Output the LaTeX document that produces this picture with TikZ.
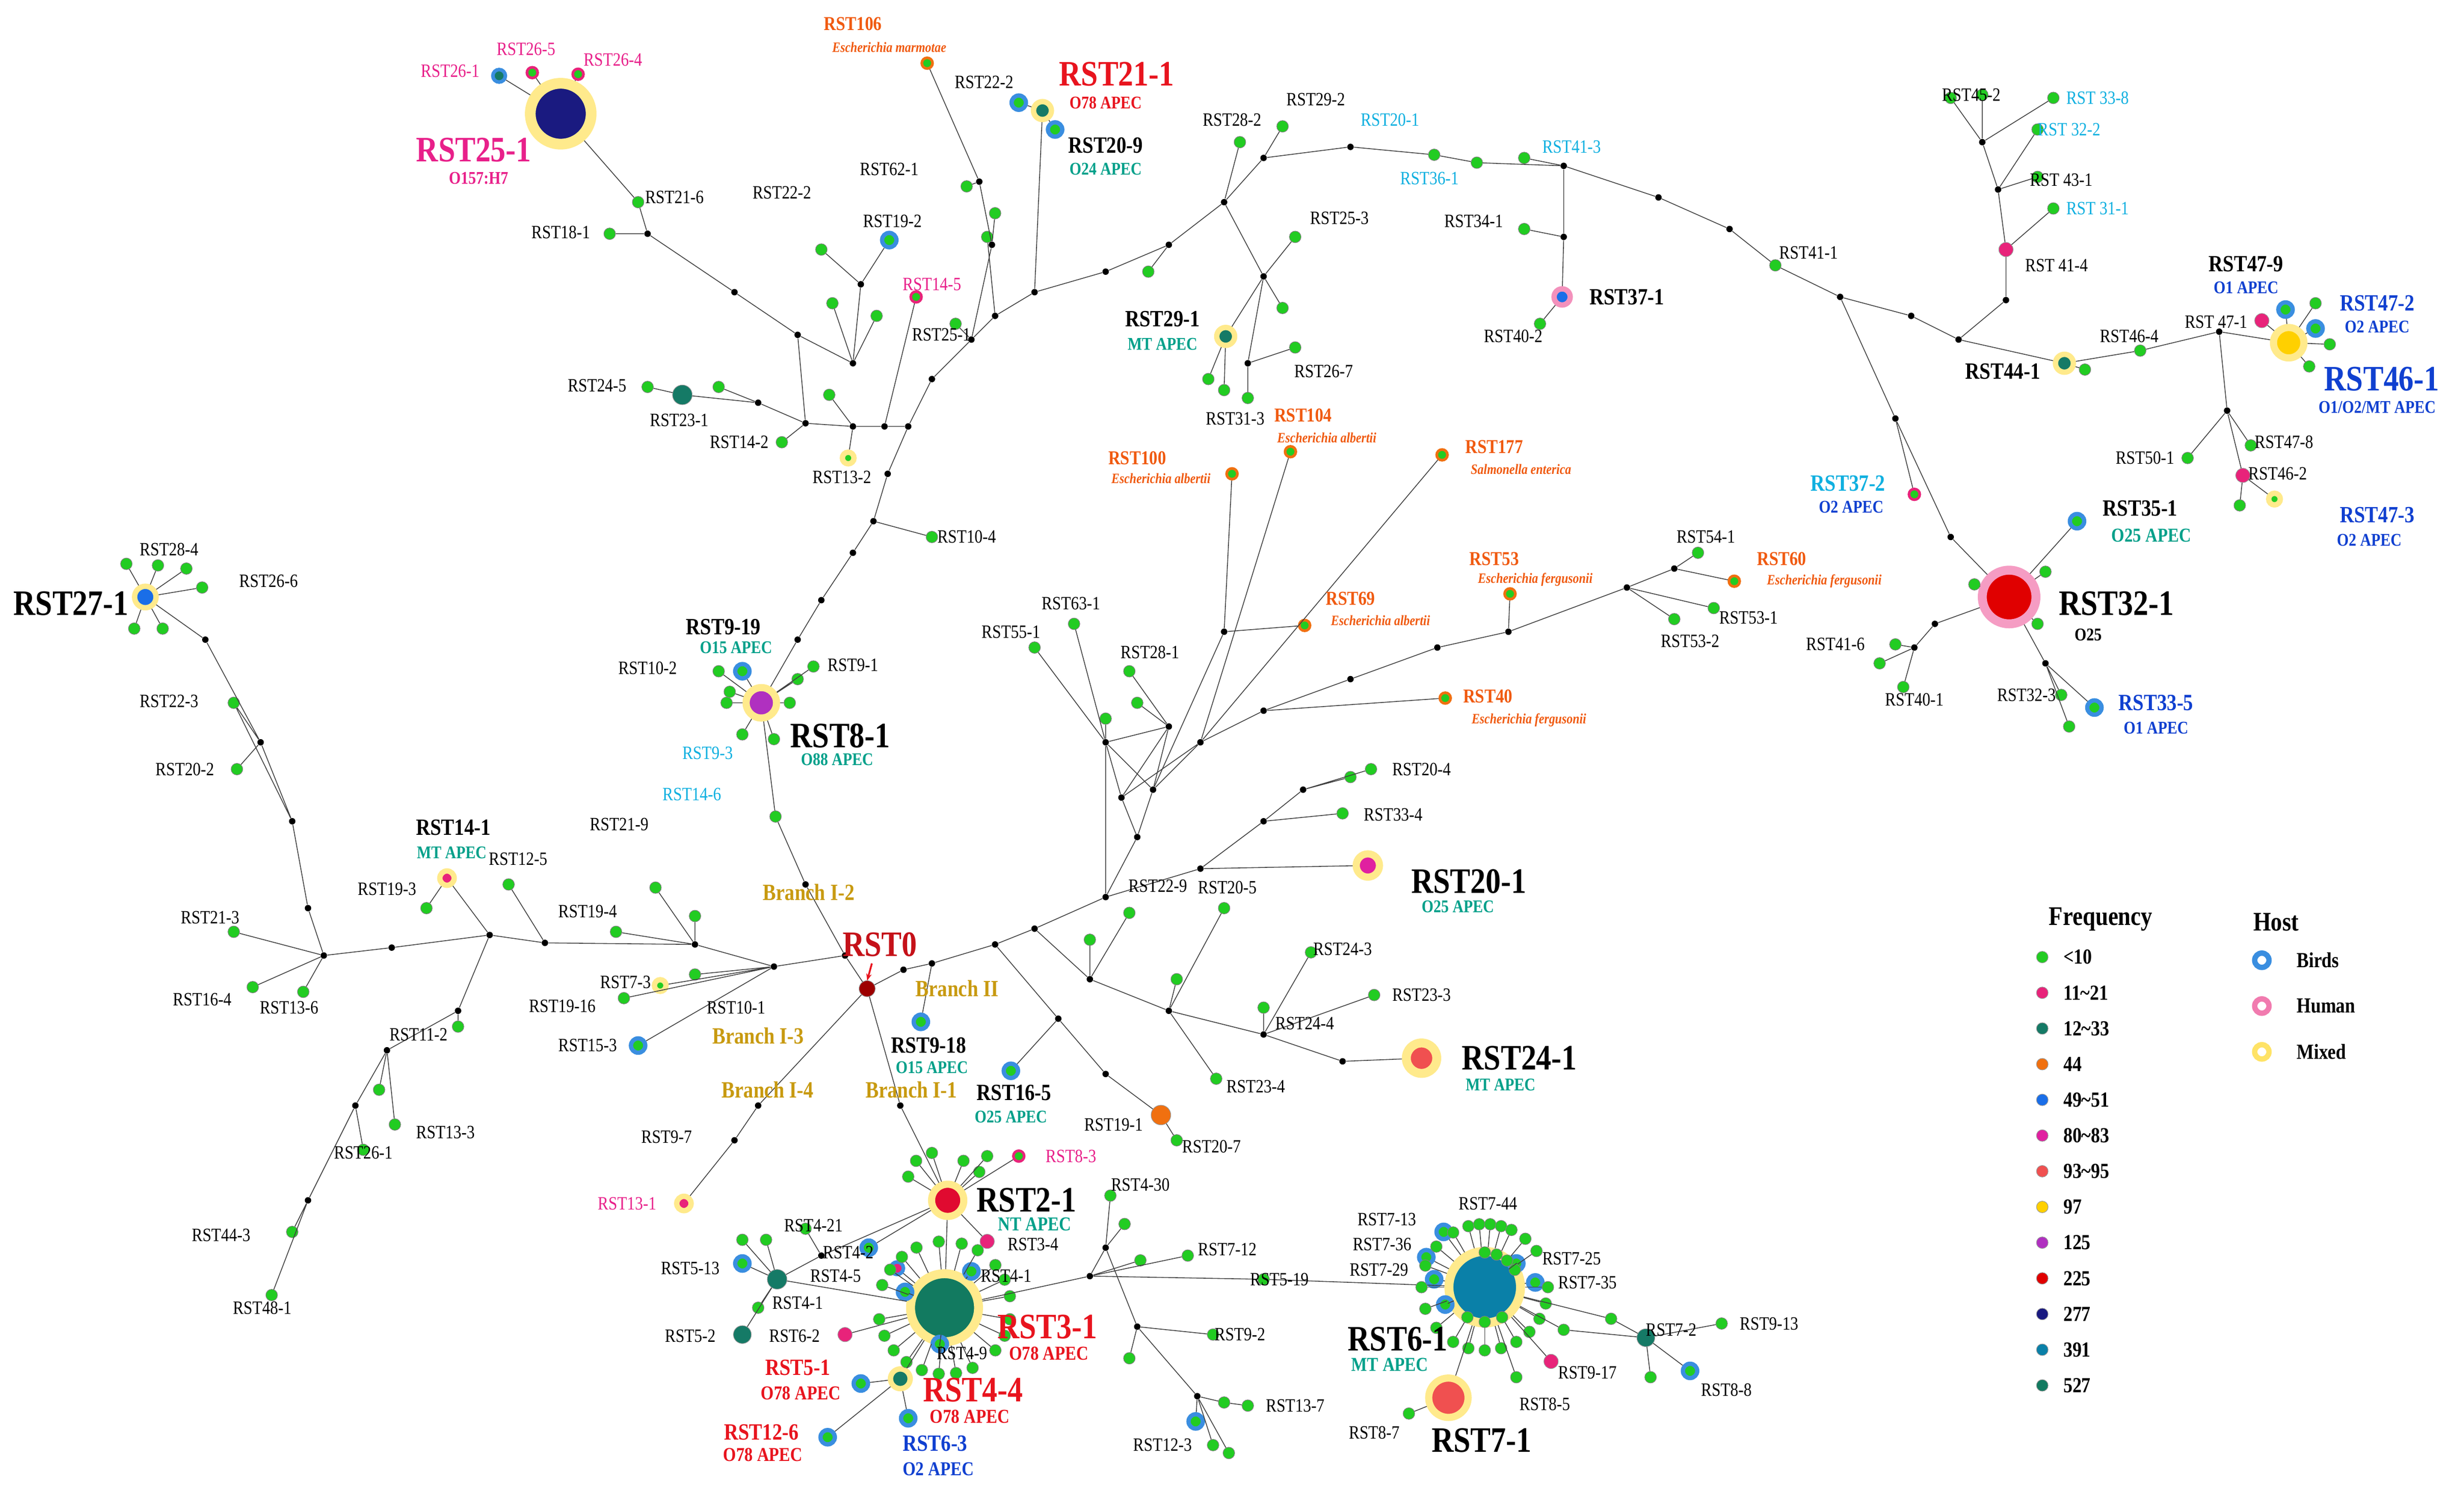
\documentclass[tikz,border=0pt]{standalone}
\usepackage{fontspec}
\setmainfont{Liberation Serif}[FakeStretch=0.85]
\usetikzlibrary{calc,arrows.meta}
\definecolor{cg}{HTML}{22CC22}
\definecolor{cpk}{HTML}{E8237A}
\definecolor{ctl}{HTML}{157A66}
\definecolor{cor}{HTML}{F07010}
\definecolor{cbl}{HTML}{1A6EE8}
\definecolor{cmg}{HTML}{E020A0}
\definecolor{csl}{HTML}{F05050}
\definecolor{cye}{HTML}{FFD000}
\definecolor{cpu}{HTML}{B030C0}
\definecolor{crd}{HTML}{E00000}
\definecolor{cnv}{HTML}{1A1A80}
\definecolor{ccy}{HTML}{0A80A8}
\definecolor{cdt}{HTML}{127A60}
\definecolor{ring}{HTML}{3A8EE0}
\definecolor{tteal}{HTML}{00A08A}
\definecolor{tred}{HTML}{E8141E}
\definecolor{torg}{HTML}{F05A10}
\definecolor{tcy}{HTML}{10B0E0}
\definecolor{tblu}{HTML}{1040D0}
\definecolor{tpk}{HTML}{E8208A}
\definecolor{tgold}{HTML}{C89A10}
\newcounter{lc}
\newcommand\Lb[3][]{\stepcounter{lc}\node[lab,#1] (lab\thelc) at (#2) {#3};}
\newcommand\G[3][]{\node[g,#1] (#2) at (#3) {};}
\newcommand\K[2]{\node[k] (#1) at (#2) {};}
\begin{document}
\begin{tikzpicture}[x=0.031026cm,y=-0.031026cm,
 e/.style={draw=black!75,line width=0.45pt},
 k/.style={circle,fill=black,inner sep=0,minimum size=3.6pt},
 g/.style={circle,fill=cg,draw=black!50,line width=0.3pt,inner sep=0,minimum size=6.5pt},
 bird/.style={draw=ring,line width=2.4pt,minimum size=8pt},
 mix/.style={draw=cye!45,line width=3pt},
 hum/.style={draw=cpk!45,line width=3pt},
 n/.style={circle,inner sep=0,draw=black!40,line width=0.3pt},
 lab/.style={font=\fontsize{10.5}{12}\selectfont,inner sep=1pt},
 bl/.style={font=\bfseries\fontsize{13}{14}\selectfont,inner sep=1pt},
 Bl/.style={font=\bfseries\fontsize{20}{22}\selectfont,inner sep=1pt},
 sb/.style={font=\bfseries\fontsize{10}{11}\selectfont,inner sep=1pt},
 it/.style={font=\bfseries\itshape\fontsize{8}{9}\selectfont,inner sep=1pt,text=torg},
 br/.style={font=\bfseries\fontsize{13}{14}\selectfont,text=tgold,inner sep=1pt}]
\useasboundingbox[fill=white] (0,0) rectangle (1560,944);

% ---------- major nodes ----------
\node[n,fill=cnv,minimum size=34pt,draw=cye!45,line width=6pt] (r251) at (355,72) {};
\node[n,fill=cpu,minimum size=17pt,draw=cye!45,line width=4pt] (r81) at (482,445) {};
\node[n,fill=crd,minimum size=30pt,draw=cpk!45,line width=5pt] (r321) at (1272,378) {};
\node[n,fill=cye,minimum size=17pt,draw=cye!45,line width=4pt] (r461) at (1449,217) {};
\node[n,fill=cdt,minimum size=38pt,draw=cye!45,line width=5pt] (r31) at (598,828) {};
\node[n,fill=ccy,minimum size=40pt,draw=cye!45,line width=5pt] (r61) at (940,815) {};
\node[n,fill=crd!70!cmg,minimum size=18pt,draw=cye!45,line width=4pt] (r21) at (600,760) {};
\node[n,fill=csl,minimum size=22pt,draw=cye!45,line width=4pt] (r71) at (917,885) {};
\node[n,fill=csl,minimum size=17pt,draw=cye!45,line width=5pt] (r241) at (900,670) {};
\node[n,fill=cmg,minimum size=13pt,draw=cye!45,line width=4pt] (r201) at (866,548) {};
\node[n,fill=cbl,minimum size=12pt,draw=cye!45,line width=3pt] (r271) at (92,378) {};
\node[n,fill=cbl,minimum size=9pt,draw=cpk!50,line width=3pt] (r371) at (989,188) {};
\node[n,fill=ctl,minimum size=10pt,draw=cye!45,line width=3pt] (r211) at (660,70) {};
\node[n,fill=ctl,minimum size=10pt,draw=cye!45,line width=3pt] (r291) at (776,213) {};
\node[n,fill=ctl,minimum size=10pt,draw=cye!45,line width=3pt] (r441) at (1307,230) {};
\node[n,fill=ctl,minimum size=11pt,draw=cye!45,line width=3pt] (r44) at (570,873) {};
\node[n,fill=ctl,minimum size=11pt] (r231) at (432,250) {};
\node[n,fill=ctl,minimum size=11pt] (r41) at (492,810) {};
\node[n,fill=ctl,minimum size=10pt] (r52) at (470,845) {};
\node[n,fill=ctl,minimum size=10pt] (r72) at (1042,847) {};
\node[n,fill=cpk,minimum size=8pt,draw=cye!45,line width=3pt] (r141) at (283,556) {};
\node[n,fill=cpk,minimum size=8pt,draw=cye!45,line width=3pt] (r131) at (433,762) {};
\node[n,fill=cor,minimum size=11pt] (r191) at (735,706) {};
\node[n,fill=cpk,minimum size=8pt] (r414) at (1270,158) {};
\node[n,fill=cpk,minimum size=8pt] (r471) at (1432,203) {};
\node[n,fill=cpk,minimum size=8pt] (r462) at (1420,301) {};
\node[n,fill=cpk,minimum size=8pt] (r62) at (535,845) {};
\node[n,fill=cpk,minimum size=8pt] (r34) at (625,786) {};
\node[n,fill=cpk,minimum size=8pt] (r917) at (982,862) {};
\node[n,fill=cpk,minimum size=7pt,draw=ring,line width=2pt] (r45) at (568,803) {};
\node[n,fill=ctl,minimum size=7pt,draw=ring,line width=2pt] (r261) at (316,48) {};
\node[n,fill=cg,minimum size=6pt,draw=cpk,line width=1.5pt] (r265) at (337,46) {};
\node[n,fill=cg,minimum size=6pt,draw=cpk,line width=1.5pt] (r264) at (366,47) {};
\node[n,fill=cg,minimum size=6pt,draw=cpk,line width=1.5pt] (r145) at (580,188) {};
\node[n,fill=cg,minimum size=6pt,draw=cpk,line width=1.5pt] (r83) at (645,732) {};
\node[n,fill=cg,minimum size=6pt,draw=cpk,line width=1.5pt] (r719) at (1212,313) {};
\foreach \nm/\p in {r106/{587,40},r100/{780,300},r104/{817,286},r177/{913,288},r69/{826,396},r53/{956,376},r60/{1098,368},r40/{915,442}}
 {\node[n,fill=cg,minimum size=6pt,draw=cor,line width=1.5pt] (\nm) at (\p) {};}
% birds
\foreach \nm/\p in {r222/{645,65},r209/{668,82},r192/{563,152},r919/{470,425},r153/{404,662},r918/{583,647},r165/{640,678},
 r479/{1447,196},r472/{1466,208},r351/{1315,330},r335/{1326,448},r513/{470,800},r42/{550,790},r51/{545,876},r126/{524,910},r63/{575,898},
 r123/{757,900},r88/{1070,868},r713/{914,780},r736/{903,796},r729/{908,810},r735/{972,812},b61/{915,826},b62/{960,800},b63/{595,851},b64/{615,805},b65/{573,818}}
 {\node[g,bird] (\nm) at (\p) {};}
% mixed small
\G[mix]{r132}{537,290}
\G[mix]{r73}{418,624}
\G[mix]{r473}{1440,316}

% ---------- top-left ----------
\K{a1}{410,148}\G{r216}{404,128}\G{r181}{386,148}
\K{a2}{465,185}\K{a3}{505,212}\K{a4}{510,268}\K{a5}{540,270}\K{a6}{560,270}
\K{a7}{480,255}\K{a8}{540,230}\K{a9}{545,180}\G{r222b}{520,158}\G{lf1}{527,192}\G{lf2}{555,200}
\G{r245}{410,245}\G{lf3}{455,245}\G{lf4}{495,280}\G{lf5}{525,250}
\draw[e] (r251)--(r261) (r251)--(r265) (r251)--(r264) (r251)--(r216)--(a1)--(r181) (a1)--(a2)--(a3)--(a4) (a3)--(a8)--(a9)--(r222b) (a9)--(r192) (a8)--(lf1) (a8)--(lf2)
 (a4)--(a7)--(r231)--(r245) (a7)--(lf3) (a4)--(lf4) (a4)--(a5)--(a6) (a5)--(lf5) (a5)--(r132) (a6)--(r145);
% trunk
\K{t1}{505,405}\K{t2}{520,380}\K{t3}{540,350}\K{t4}{553,330}\K{t5}{562,300}\K{t6}{575,270}\K{t7}{590,240}\K{t8}{615,215}\K{t9}{630,200}\K{t10}{655,185}
\G{r104b}{590,340}\G{lf6}{605,205}\G{lf7}{625,150}\K{t11}{628,155}\K{t12}{620,115}\G{r621}{612,118}\G{lf8}{630,135}
\draw[e] (r81)--(t1)--(t2)--(t3)--(t4)--(t5)--(t6)--(t7)--(t8)--(t9)--(t10) (t6)--(a6) (t4)--(r104b) (t8)--(lf6) (t8)--(t11)--(t12)--(r106) (t12)--(r621) (t11)--(lf8) (t9)--(lf7);
\draw[e] (t10)--(r211)--(r222) (r211)--(r209);
% top arc
\K{u1}{700,172}\K{u2}{740,155}\K{u3}{775,128}\K{u4}{800,100}\K{u5}{855,93}\K{u6}{990,105}\K{u7}{1050,125}\K{u8}{1095,145}
\G{lf9}{727,172}\G{r282}{785,90}\G{r292}{812,80}\G{r201t}{908,98}\G{r361}{935,103}\G{r413}{965,100}\G{r411}{1124,168}
\K{u9}{990,150}\G{r341}{965,145}\G{r402}{975,205}
\K{v1}{800,175}\K{v2}{790,230}\G{r253}{820,150}\G{r267}{820,220}\G{r313}{790,252}\G{lf10}{765,240}\G{lf11}{775,247}\G{lf12}{812,195}
\draw[e] (t10)--(u1)--(u2)--(u3)--(u4)--(u5)--(r201t)--(r361)--(u6)--(u7)--(u8)--(r411) (u6)--(r413) (u2)--(lf9) (u3)--(r282) (u4)--(r292)
 (u6)--(u9)--(r371)--(r402) (u9)--(r341) (u3)--(v1)--(r253) (v1)--(lf12) (v1)--(r291) (v1)--(v2)--(r267) (v2)--(r313) (r291)--(lf10) (r291)--(lf11);
% right top
\K{w1}{1165,188}\K{w2}{1210,200}\K{w3}{1240,215}\K{w4}{1270,190}\K{w5}{1265,120}\K{w6}{1255,90}\K{w7}{1405,210}
\G{r452}{1235,62}\G{r338}{1300,62}\G{r322}{1290,82}\G{r431}{1290,112}\G{r311}{1300,132}\G{lf13}{1255,60}\G{lf14}{1320,234}
\G{r464}{1355,222}\K{w8}{1410,260}\G{r478}{1425,282}\G{r501}{1385,290}\G{lf15}{1418,320}\G{lf16}{1466,192}\G{lf17}{1475,218}\G{lf18}{1462,232}
\draw[e] (r411)--(w1)--(w2)--(w3)--(r441)--(r464)--(w7)--(r461) (w3)--(w4)--(r414)--(w5)--(w6)--(r452) (w6)--(lf13) (w6)--(r338) (w5)--(r322) (w5)--(r431) (r414)--(r311)
 (r441)--(lf14) (r461)--(r479) (r461)--(r472) (r461)--(r471) (r461)--(lf16) (r461)--(lf17) (r461)--(lf18) (w7)--(w8)--(r462)--(r473) (w8)--(r478) (w8)--(r501) (r462)--(lf15);
\K{w9}{1200,265}\K{w10}{1235,340}
\G{lf19}{1295,362}\G{lf20}{1250,370}\G{lf21}{1290,395}\K{w11}{1225,395}\K{w12}{1212,410}\G{r416}{1200,408}\G{r401}{1205,435}\G{lf22}{1190,420}
\K{w13}{1295,420}\G{r323}{1305,440}\G{lf23}{1310,460}
\draw[e] (w1)--(w9)--(w10)--(r321) (w9)--(r719) (r321)--(r351) (r321)--(lf19) (r321)--(lf20) (r321)--(lf21) (r321)--(w11)--(w12)--(r416) (w12)--(r401) (w12)--(lf22) (r321)--(w13)--(r335) (w13)--(r323) (w13)--(lf23);

% ---------- middle ----------
\node[n,fill=crd!70!black,minimum size=9pt] (r0) at (549,626) {};
\K{b1}{572,614}\K{b2}{590,610}\K{b3}{630,598}\K{b4}{655,588}\K{b5}{700,568}\K{b6}{720,530}\K{h}{730,500}\K{h2}{760,470}
\K{h3}{700,470}\K{h4}{740,460}\K{h5}{710,505}
\G{r551}{655,410}\G{r631}{680,395}\G{r281}{715,425}\G{lf24}{700,455}\G{lf25}{720,445}
\draw[e] (r0)--(b1)--(b2)--(b3)--(b4)--(b5)--(b6)--(h)--(h2) (h)--(h3)--(r551) (h3)--(h4)--(h5)--(h3) (h4)--(h) (h5)--(b6) (h3)--(r631) (h4)--(r281) (h3)--(lf24) (h4)--(lf25) (h5)--(h2) (b5)--(h3);
\K{p1}{775,400}\K{p2}{800,450}\K{p3}{855,430}\K{p4}{910,410}\K{p5}{955,400}\K{p6}{1030,372}\K{p7}{1060,360}
\G{r541}{1075,350}\G{r531}{1085,385}\G{r532}{1060,392}
\draw[e] (h)--(p1)--(r69) (p1)--(r100) (h2)--(r104) (h2)--(r177) (h2)--(p2)--(p3)--(p4)--(p5)--(p6)--(p7)--(r60) (p7)--(r541) (p6)--(r531) (p6)--(r532) (p5)--(r53) (p2)--(r40);
\K{q1}{760,550}\K{q2}{800,520}\K{q3}{825,500}\G{r334}{850,515}\G{r204}{868,487}\G{lf26}{855,492}
\draw[e] (b5)--(q1)--(r201) (q1)--(q2)--(r334) (q2)--(q3)--(r204) (q3)--(lf26);
\K{s1}{690,620}\K{s2}{740,640}\K{s3}{800,655}\K{s4}{850,672}
\G{r229}{715,578}\G{r205}{775,575}\G{r243}{830,603}\G{r233}{870,630}\G{r244}{800,638}\G{r234}{770,683}\G{lf27}{690,595}\G{lf28}{745,620}
\draw[e] (b4)--(s1)--(s2)--(s3)--(s4)--(r241) (s1)--(r229) (s1)--(lf27) (s2)--(r205) (s2)--(lf28) (s3)--(r243) (s3)--(r233) (s3)--(r244) (s2)--(r234);
\K{s5}{670,645}\K{s6}{700,680}\G{r207}{745,722}
\draw[e] (b3)--(s5)--(r165) (s5)--(s6)--(r191)--(r207) (b2)--(r918);
% RST8-1 and branch I-2
\G{r102}{455,425}\G{r91}{515,422}\G{r93}{470,465}\G{lf29}{460,445}\G{lf30}{500,445}\G{lf31}{490,468}\G{lf32}{505,430}\G{lf33}{462,438}
\G{r146}{491,517}\K{c1}{535,605}\K{c2}{510,560}
\draw[e] (r0)--(c1)--(c2)--(r146)--(r81) (r81)--(r919) (r81)--(r102) (r81)--(r91) (r81)--(r93) (r81)--(lf29) (r81)--(lf30) (r81)--(lf31) (r81)--(lf32) (r81)--(lf33);
% left
\K{L1}{490,612}\K{L2}{440,598}\K{L3}{345,597}\K{L4}{310,592}\K{L5}{248,600}\K{L6}{205,605}
\G{r101}{440,617}\G{r1916}{395,632}\G{r219}{415,562}\G{r194}{390,590}\G{lf34}{440,580}\G{r125}{322,560}\G{r193}{270,575}
\draw[e] (c1)--(L1)--(L2)--(L3)--(L4)--(L5)--(L6) (L1)--(r101) (L1)--(r73) (L2)--(r194) (L2)--(lf34) (L1)--(r153) (L1)--(r1916) (L2)--(r219) (L3)--(r125) (L4)--(r141) (r141)--(r193);
\G{r213}{148,590}\G{r164}{160,625}\G{r136}{192,628}\K{L7}{195,575}\K{L8}{185,520}\K{L9}{165,470}\K{L10}{130,405}
\G{r202}{150,487}\G{r223}{148,445}\G{lf35}{80,357}\G{lf36}{100,358}\G{lf37}{128,372}\G{lf38}{85,398}\G{lf39}{103,398}\G{lf40}{118,360}
\draw[e] (L6)--(r213) (L6)--(r164) (L6)--(r136) (L6)--(L7)--(L8)--(L9)--(L10)--(r271) (L9)--(r202) (L9)--(r223) (r271)--(lf35) (r271)--(lf36) (r271)--(lf37) (r271)--(lf38) (r271)--(lf39) (r271)--(lf40) (L8)--(r223);
\K{m1}{290,640}\K{m2}{245,665}\K{m3}{225,700}\K{m4}{195,760}\G{r112}{290,650}\G{r261b}{230,728}\G{r133}{250,712}\G{r443}{185,780}\G{r481}{172,820}\G{lf41}{240,690}
\draw[e] (L4)--(m1)--(r112) (m1)--(m2)--(m3)--(m4)--(r443) (m4)--(r481) (m3)--(r261b) (m2)--(r133) (m2)--(lf41);
% Branch I-4
\K{d1}{480,700}\K{d2}{465,722}
\draw[e] (r0)--(d1)--(d2)--(r131);
% Branch I-1 bottom cluster
\K{e1}{570,700}\G{lf42}{580,735}\G{lf43}{590,730}\G{lf44}{610,735}\G{lf45}{620,742}\G{lf46}{625,732}\G{lf47}{575,745}
\draw[e] (r0)--(e1)--(r21)--(r31) (r21)--(lf42) (r21)--(lf43) (r21)--(lf44) (r21)--(lf45) (r21)--(lf46) (r21)--(lf47) (r21)--(r83) (r21)--(r34) (r21)--(r42);
\K{e2}{520,795}\G{r421}{510,778}\G{lf48}{470,785}\G{lf49}{485,785}\G{lf50}{480,828}
\draw[e] (r31)--(r41)--(r513) (r41)--(r52) (r41)--(e2)--(r421) (e2)--(r21) (r41)--(lf48) (r41)--(lf49) (r41)--(lf50) (r31)--(r45) (r31)--(r62);
\foreach \a [count=\i] in {200,215,230,245,170,155,140,125,110,95,80,65,40,25,10,350,335,320,300,285,265}
 {\node[g] (cc\i) at ($(598,828)+(\a:42)$) {}; \draw[e] (r31)--(cc\i);}
\draw[e] (r31)--(b63) (r31)--(b64) (r31)--(b65) (r31)--(r44)--(r51) (r44)--(r63) (r44)--(r126);
\K{f1}{690,808}\K{f2}{700,790}\G{r430}{703,757}\G{lf51}{712,775}\G{lf52}{722,798}\G{r712}{752,795}\G{r519}{800,810}\K{f3}{720,840}\G{lf53}{715,860}
\K{f4}{758,884}\G{r92}{768,845}\G{r137}{790,890}\G{lf54}{775,888}\G{lf55}{768,915}\G{lf56}{778,920}
\draw[e] (r31)--(f1)--(r519)--(r61) (f1)--(f2)--(r430) (f2)--(lf51) (f1)--(lf52) (f1)--(r712) (f2)--(f3)--(lf53) (f3)--(r92) (f3)--(f4)--(lf54)--(r137) (f4)--(r123) (f4)--(lf55) (f4)--(lf56);
\foreach \a [count=\i] in {255,265,275,285,295,310,325,0,15,30,45,60,75,90,105,120,140,160,180,200,220,240}
 {\node[g] (dd\i) at ($(940,815)+(\a:40)$) {}; \draw[e] (r61)--(dd\i);}
\foreach \a [count=\i] in {270,290,310,330,60,90,120}
 {\node[g] (de\i) at ($(940,815)+(\a:22)$) {};}
\G{lf57}{892,895}\G{r85}{960,872}
\draw[e] (r61)--(r713) (r61)--(r736) (r61)--(r729) (r61)--(r735) (r61)--(b61) (r61)--(b62) (r61)--(r71)--(lf57) (r61)--(r917) (r61)--(r85);
\G{r913}{1090,838}\G{lf58}{1045,872}\G{lf59}{1020,835}\G{lf60}{990,842}
\draw[e] (r61)--(lf60)--(r72)--(r913) (r72)--(r88) (r72)--(lf58) (r61)--(lf59)--(r72);

% ---------- labels ----------
\Lb[text=tpk]{285,45}{RST26-1}\Lb[text=tpk]{333,31}{RST26-5}\Lb[text=tpk]{388,38}{RST26-4}
\Lb[Bl,text=tpk]{300,95}{RST25-1}\Lb[sb,text=tpk]{303,113}{O157:H7}
\Lb{427,125}{RST21-6}\Lb{355,147}{RST18-1}\Lb{495,122}{RST22-2}\Lb{565,140}{RST19-2}\Lb[text=tpk]{590,180}{RST14-5}\Lb{596,212}{RST25-1}
\Lb{378,244}{RST24-5}\Lb{430,266}{RST23-1}\Lb{468,280}{RST14-2}\Lb{533,302}{RST13-2}\Lb{612,340}{RST10-4}\Lb{563,107}{RST62-1}
\Lb[sb,text=torg,font=\bfseries\fontsize{11}{12}\selectfont]{540,15}{RST106}\Lb[it]{563,30}{Escherichia marmotae}
\Lb{623,52}{RST22-2}\Lb[Bl,text=tred]{707,47}{RST21-1}\Lb[sb,text=tred]{700,65}{O78 APEC}
\Lb[bl]{700,92}{RST20-9}\Lb[sb,text=tteal]{700,107}{O24 APEC}
\Lb{780,76}{RST28-2}\Lb{833,63}{RST29-2}\Lb[text=tcy]{880,76}{RST20-1}\Lb[text=tcy]{905,113}{RST36-1}\Lb[text=tcy]{995,93}{RST41-3}
\Lb{933,140}{RST34-1}\Lb[bl]{1030,188}{RST37-1}\Lb{958,213}{RST40-2}\Lb{848,138}{RST25-3}\Lb{838,235}{RST26-7}\Lb{782,265}{RST31-3}
\Lb[bl]{736,202}{RST29-1}\Lb[sb,text=tteal]{736,218}{MT APEC}\Lb{1145,160}{RST41-1}
\Lb{1248,60}{RST45-2}\Lb[text=tcy]{1328,62}{RST 33-8}\Lb[text=tcy]{1310,82}{RST 32-2}\Lb{1305,114}{RST 43-1}\Lb[text=tcy]{1328,132}{RST 31-1}\Lb{1302,168}{RST 41-4}
\Lb[bl]{1422,167}{RST47-9}\Lb[sb,text=tblu]{1422,182}{O1 APEC}\Lb[bl,text=tblu]{1505,192}{RST47-2}\Lb[sb,text=tblu]{1505,207}{O2 APEC}\Lb{1403,204}{RST 47-1}
\Lb[Bl,text=tblu]{1508,240}{RST46-1}\Lb[sb,text=tblu]{1505,258}{O1/O2/MT APEC}\Lb{1348,213}{RST46-4}\Lb[bl]{1268,235}{RST44-1}\Lb{1446,280}{RST47-8}\Lb{1358,290}{RST50-1}\Lb{1442,300}{RST46-2}
\Lb[bl,text=tblu]{1505,326}{RST47-3}\Lb[sb,text=tblu]{1500,342}{O2 APEC}\Lb[bl,text=tcy]{1170,306}{RST37-2}\Lb[sb,text=tblu]{1172,321}{O2 APEC}
\Lb[bl]{1355,322}{RST35-1}\Lb[sb,text=tteal,font=\bfseries\fontsize{11}{12}\selectfont]{1362,339}{O25 APEC}\Lb[Bl]{1340,382}{RST32-1}\Lb[sb]{1322,402}{O25}
\Lb{1162,408}{RST41-6}\Lb{1212,443}{RST40-1}\Lb{1283,440}{RST32-3}\Lb[bl,text=tblu]{1365,445}{RST33-5}\Lb[sb,text=tblu]{1365,461}{O1 APEC}
\Lb[sb,text=torg,font=\bfseries\fontsize{11}{12}\selectfont]{720,290}{RST100}\Lb[it]{735,303}{Escherichia albertii}
\Lb[sb,text=torg,font=\bfseries\fontsize{11}{12}\selectfont]{825,263}{RST104}\Lb[it]{840,277}{Escherichia albertii}
\Lb[sb,text=torg,font=\bfseries\fontsize{11}{12}\selectfont]{946,283}{RST177}\Lb[it]{963,297}{Salmonella enterica}
\Lb[sb,text=torg,font=\bfseries\fontsize{11}{12}\selectfont]{946,354}{RST53}\Lb[it]{972,367}{Escherichia fergusonii}
\Lb[sb,text=torg,font=\bfseries\fontsize{11}{12}\selectfont]{1128,354}{RST60}\Lb[it]{1155,368}{Escherichia fergusonii}
\Lb[sb,text=torg,font=\bfseries\fontsize{11}{12}\selectfont]{855,379}{RST69}\Lb[it]{874,393}{Escherichia albertii}
\Lb[sb,text=torg,font=\bfseries\fontsize{11}{12}\selectfont]{942,441}{RST40}\Lb[it]{968,456}{Escherichia fergusonii}
\Lb{1080,340}{RST54-1}\Lb{1107,391}{RST53-1}\Lb{1070,406}{RST53-2}
\Lb{640,400}{RST55-1}\Lb{678,382}{RST63-1}\Lb{728,413}{RST28-1}
\Lb{900,487}{RST20-4}\Lb{882,516}{RST33-4}\Lb[Bl]{930,558}{RST20-1}\Lb[sb,text=tteal]{923,574}{O25 APEC}
\Lb{733,561}{RST22-9}\Lb{777,562}{RST20-5}\Lb{850,601}{RST24-3}\Lb{900,630}{RST23-3}\Lb{826,648}{RST24-4}\Lb{795,688}{RST23-4}
\Lb[Bl]{962,670}{RST24-1}\Lb[sb,text=tteal]{950,687}{MT APEC}\Lb{705,712}{RST19-1}\Lb{767,726}{RST20-7}
\Lb{410,423}{RST10-2}\Lb[bl]{458,397}{RST9-19}\Lb[sb,text=tteal]{466,410}{O15 APEC}\Lb{540,421}{RST9-1}\Lb[text=tcy]{448,477}{RST9-3}
\Lb[Bl]{532,466}{RST8-1}\Lb[sb,text=tteal]{530,481}{O88 APEC}\Lb[text=tcy]{438,503}{RST14-6}
\Lb[Bl,text=tred!85!black]{557,598}{RST0}
\Lb[br]{512,565}{Branch I-2}\Lb[br]{606,626}{Branch II}\Lb[br]{480,656}{Branch I-3}\Lb[br]{486,690}{Branch I-4}\Lb[br]{577,690}{Branch I-1}
\Lb{392,522}{RST21-9}\Lb{328,544}{RST12-5}\Lb[bl]{287,524}{RST14-1}\Lb[sb,text=tteal]{286,540}{MT APEC}\Lb{245,563}{RST19-3}\Lb{372,577}{RST19-4}
\Lb{396,622}{RST7-3}\Lb{356,637}{RST19-16}\Lb{466,638}{RST10-1}\Lb{372,662}{RST15-3}
\Lb[bl]{588,662}{RST9-18}\Lb[sb,text=tteal]{590,676}{O15 APEC}\Lb[bl]{642,692}{RST16-5}\Lb[sb,text=tteal]{640,707}{O25 APEC}
\Lb{107,348}{RST28-4}\Lb{170,368}{RST26-6}\Lb[Bl]{45,382}{RST27-1}\Lb{107,444}{RST22-3}\Lb{117,487}{RST20-2}\Lb{133,581}{RST21-3}\Lb{128,633}{RST16-4}\Lb{183,638}{RST13-6}
\Lb{265,655}{RST11-2}\Lb{230,730}{RST26-1}\Lb{282,717}{RST13-3}\Lb{140,782}{RST44-3}\Lb{166,828}{RST48-1}
\Lb{422,720}{RST9-7}\Lb[text=tpk]{397,762}{RST13-1}
\Lb[Bl]{650,760}{RST2-1}\Lb[sb,text=tteal,font=\bfseries\fontsize{11}{12}\selectfont]{655,775}{NT APEC}\Lb[text=tpk]{678,732}{RST8-3}\Lb{722,750}{RST4-30}\Lb{654,788}{RST3-4}
\Lb{515,776}{RST4-21}\Lb{537,793}{RST4-2}\Lb{529,808}{RST4-5}\Lb{637,808}{RST4-1}\Lb{437,803}{RST5-13}\Lb{505,825}{RST4-1}\Lb{437,846}{RST5-2}\Lb{503,846}{RST6-2}\Lb{609,857}{RST4-9}
\Lb[Bl,text=tred]{663,840}{RST3-1}\Lb[sb,text=tred,font=\bfseries\fontsize{11}{12}\selectfont]{664,857}{O78 APEC}
\Lb[bl,text=tred]{505,866}{RST5-1}\Lb[sb,text=tred,font=\bfseries\fontsize{11}{12}\selectfont]{507,882}{O78 APEC}
\Lb[Bl,text=tred]{616,880}{RST4-4}\Lb[sb,text=tred,font=\bfseries\fontsize{11}{12}\selectfont]{614,897}{O78 APEC}
\Lb[bl,text=tred]{482,907}{RST12-6}\Lb[sb,text=tred,font=\bfseries\fontsize{11}{12}\selectfont]{483,921}{O78 APEC}
\Lb[bl,text=tblu]{592,914}{RST6-3}\Lb[sb,text=tblu,font=\bfseries\fontsize{11}{12}\selectfont]{594,930}{O2 APEC}
\Lb{777,791}{RST7-12}\Lb{810,810}{RST5-19}\Lb{785,845}{RST9-2}\Lb{820,890}{RST13-7}\Lb{736,915}{RST12-3}
\Lb{878,772}{RST7-13}\Lb{875,788}{RST7-36}\Lb{873,804}{RST7-29}\Lb{942,762}{RST7-44}\Lb{995,797}{RST7-25}\Lb{1005,812}{RST7-35}
\Lb[Bl]{885,848}{RST6-1}\Lb[sb,text=tteal,font=\bfseries\fontsize{11}{12}\selectfont]{880,864}{MT APEC}
\Lb[Bl]{938,912}{RST7-1}\Lb{870,907}{RST8-7}\Lb{978,889}{RST8-5}\Lb{1005,869}{RST9-17}\Lb{1058,842}{RST7-2}\Lb{1120,838}{RST9-13}\Lb{1093,880}{RST8-8}
\coordinate (ar1) at (552,610); \coordinate (ar2) at (549,621);
\draw[-{Stealth[length=4pt]},draw=tred,line width=1pt] (ar1)--(ar2);

% ---------- legend ----------
\Lb[font=\bfseries\fontsize{15}{16}\selectfont]{1330,582}{Frequency}
\Lb[font=\bfseries\fontsize{15}{16}\selectfont]{1441,584}{Host}
\foreach \c/\t [count=\i] in {cg/{<10},cpk/{11\textasciitilde 21},ctl/{12\textasciitilde 33},cor/44,cbl/{49\textasciitilde 51},cmg/{80\textasciitilde 83},csl/{93\textasciitilde 95},cye/97,cpu/125,crd/225,cnv/277,ccy/391,cdt/527}
 {\node[n,fill=\c,minimum size=6.5pt] (lg\i) at (1293,606+22.6*\i-22.6) {};
  \node[anchor=west,font=\bfseries\fontsize{12}{13}\selectfont,inner sep=1pt] (lt\i) at (1305,606+22.6*\i-22.6) {\t};}
\node[circle,inner sep=0,minimum size=8pt,fill=white,draw=ring,line width=3pt] (hb) at (1432,608) {};
\node[circle,inner sep=0,minimum size=8pt,fill=white,draw=cpk!60,line width=3pt] (hh) at (1432,637) {};
\node[circle,inner sep=0,minimum size=8pt,fill=white,draw=cye!60,line width=3pt] (hm) at (1432,666) {};
\node[anchor=west,font=\bfseries\fontsize{12}{13}\selectfont] (ht1) at (1450,608) {Birds};
\node[anchor=west,font=\bfseries\fontsize{12}{13}\selectfont] (ht2) at (1450,637) {Human};
\node[anchor=west,font=\bfseries\fontsize{12}{13}\selectfont] (ht3) at (1450,666) {Mixed};
\end{tikzpicture}
\end{document}
